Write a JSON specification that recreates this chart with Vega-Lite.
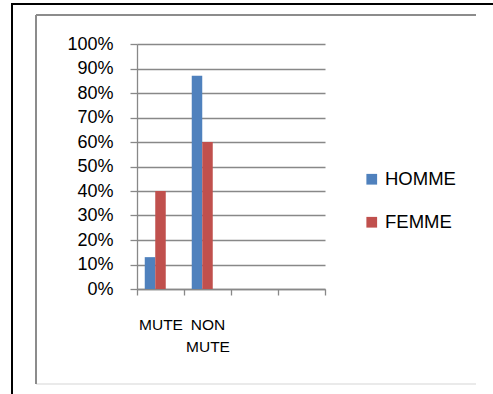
{
  "$schema": "https://vega.github.io/schema/vega-lite/v6.json",
  "width": 493,
  "height": 394,
  "autosize": {"type": "none"},
  "padding": 0,
  "background": "white",
  "config": {"view": {"stroke": null}, "font": "Liberation Sans"},
  "data": {"values": [
    {"cat": "MUTE", "sexe": "HOMME", "pct": 0.13},
    {"cat": "MUTE", "sexe": "FEMME", "pct": 0.40},
    {"cat": "NON MUTE", "sexe": "HOMME", "pct": 0.87},
    {"cat": "NON MUTE", "sexe": "FEMME", "pct": 0.60}
  ]},
  "layer": [
    {
      "mark": {"type": "bar"},
      "encoding": {
        "x": {
          "field": "cat", "type": "nominal", "sort": null,
          "scale": {"domain": ["MUTE", "NON MUTE", "c3", "c4"], "range": [137, 325], "paddingInner": 0, "paddingOuter": 0},
          "axis": {
            "orient": "bottom", "offset": -105, "title": null, "labelAngle": 0,
            "labelExpr": "datum.value == 'NON MUTE' ? ['NON', 'MUTE'] : (datum.value == 'MUTE' ? 'MUTE' : '')",
            "labelFontSize": 15.5, "labelColor": "#000000", "labelPadding": 22, "labelBaseline": "top",
            "labelLineHeight": 22.5, "labelOverlap": false, "tickBand": "extent", "tickSize": 6,
            "tickColor": "#888888", "tickWidth": 1.3, "domainColor": "#888888", "domainWidth": 1.3, "grid": false
          }
        },
        "xOffset": {
          "field": "sexe", "type": "nominal",
          "scale": {"domain": ["HOMME", "FEMME", "_"], "paddingOuter": 0.738, "paddingInner": 0}
        },
        "y": {
          "field": "pct", "type": "quantitative",
          "scale": {"domain": [0, 1], "range": [289, 44], "nice": false},
          "axis": {
            "orient": "left", "offset": -137, "values": [0, 0.1, 0.2, 0.3, 0.4, 0.5, 0.6, 0.7, 0.8, 0.9, 1],
            "format": ".0%", "title": null, "labelFontSize": 18, "labelColor": "#000000", "labelPadding": 17,
            "tickSize": 7, "tickColor": "#888888", "tickWidth": 1.3, "domainColor": "#888888", "domainWidth": 1.3,
            "grid": true, "gridColor": "#888888", "gridWidth": 1.3
          }
        },
        "color": {
          "field": "sexe", "type": "nominal",
          "scale": {"domain": ["HOMME", "FEMME"], "range": ["#4F81BD", "#C0504D"]},
          "legend": {
            "title": null, "orient": "none", "legendX": 362.5, "legendY": 170, "symbolType": "square",
            "symbolSize": 115, "symbolStrokeWidth": 0, "symbolOpacity": 1, "labelFontSize": 18.5,
            "labelColor": "#000000", "labelOffset": 4, "rowPadding": 24, "padding": 0
          }
        }
      }
    },
    {
      "mark": {"type": "point", "opacity": 0},
      "encoding": {
        "x": {
          "field": "pct", "type": "quantitative",
          "scale": {"domain": [0, 1], "range": [36, 476], "nice": false, "zero": false},
          "axis": {"orient": "top", "offset": -15, "title": null, "labels": false, "ticks": false, "grid": false,
                   "domainColor": "#8c8c8c", "domainWidth": 2, "translate": 0}
        },
        "y": {
          "field": "pct", "type": "quantitative",
          "scale": {"domain": [0, 1], "range": [384, 15], "nice": false, "zero": false},
          "axis": {"orient": "left", "offset": -36, "title": null, "labels": false, "ticks": false, "grid": false,
                   "domainColor": "#8c8c8c", "domainWidth": 2, "translate": 0}
        }
      }
    },
    {
      "mark": {"type": "point", "opacity": 0},
      "encoding": {
        "x": {
          "field": "pct", "type": "quantitative",
          "scale": {"domain": [0, 1], "range": [11, 493], "nice": false, "zero": false},
          "axis": {"orient": "top", "offset": -4, "title": null, "labels": false, "ticks": false, "grid": false,
                   "domainColor": "#000000", "domainWidth": 2, "translate": 0}
        },
        "y": {
          "field": "pct", "type": "quantitative",
          "scale": {"domain": [0, 1], "range": [394, 3], "nice": false, "zero": false},
          "axis": {"orient": "left", "offset": -12, "title": null, "labels": false, "ticks": false, "grid": false,
                   "domainColor": "#000000", "domainWidth": 2, "translate": 0}
        }
      }
    },
    {
      "mark": {"type": "point", "opacity": 0},
      "encoding": {
        "x": {
          "field": "pct", "type": "quantitative",
          "scale": {"domain": [0, 1], "range": [36, 476], "nice": false, "zero": false},
          "axis": {"orient": "bottom", "offset": -10, "title": null, "labels": false, "ticks": false, "grid": false,
                   "domainColor": "#e3e3e3", "domainWidth": 1.5, "translate": 0}
        }
      }
    }
  ],
  "resolve": {
    "scale": {"x": "independent", "y": "independent"},
    "axis": {"x": "independent", "y": "independent"}
  }
}
